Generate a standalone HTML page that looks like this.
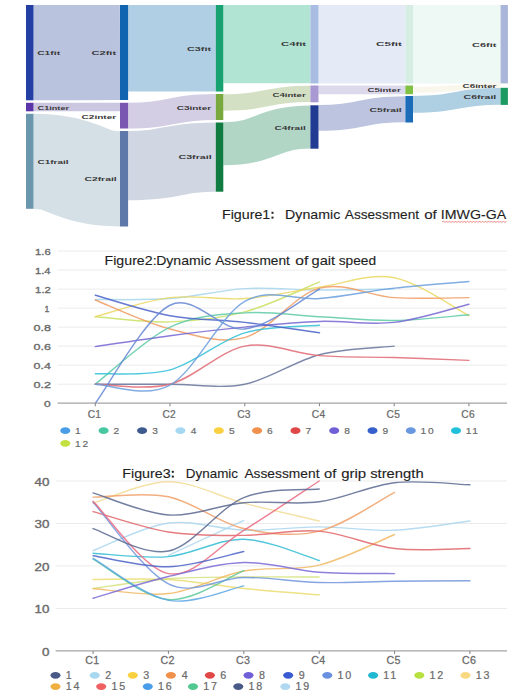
<!DOCTYPE html>
<html><head><meta charset="utf-8">
<style>
html,body{margin:0;padding:0;background:#fff;}
body{width:520px;height:699px;position:relative;overflow:hidden;font-family:"Liberation Sans",sans-serif;}
svg{position:absolute;left:0;top:0;}
.sl{font-family:"Liberation Sans",sans-serif;font-weight:bold;font-size:6px;fill:#383838;}
.yl{font-family:"Liberation Sans",sans-serif;fill:#6a6a6a;stroke:#6a6a6a;stroke-width:0.35px;}
.xl{font-family:"Liberation Sans",sans-serif;fill:#6a6a6a;stroke:#6a6a6a;stroke-width:0.25px;}
.lg{font-family:"Liberation Sans",sans-serif;fill:#6a6a6a;stroke:#6a6a6a;stroke-width:0.2px;}
.cw{font-family:"Liberation Sans",sans-serif;fill:#1e1e1e;stroke:#1e1e1e;stroke-width:0.12px;}
</style></head><body>
<svg width="520" height="699" viewBox="0 0 520 699">
<g id="sankey">
<path transform="translate(33.5,0) scale(1.3,1)" d="M0 52.65 C33.27 52.65 33.27 52.5 66.54 52.5" fill="none" stroke="#bac3dd" stroke-width="95.15"/>
<path transform="translate(33.5,0) scale(1.3,1)" d="M0 107.05 C33.27 107.05 33.27 107.05 66.54 107.05" fill="none" stroke="#cbc7e0" stroke-width="8.5"/>
<path transform="translate(33.5,0) scale(1.3,1)" d="M0 161.3 C33.27 161.3 33.27 178.75 66.54 178.75" fill="none" stroke="#d5e0e6" stroke-width="95.25"/>
<path transform="translate(128.1,0) scale(1.3,1)" d="M0 48.25 C33.73 48.25 33.73 48.25 67.46 48.25" fill="none" stroke="#b1cfe4" stroke-width="86.5"/>
<path transform="translate(128.1,0) scale(1.3,1)" d="M0 115.65 C33.73 115.65 33.73 107 67.46 107" fill="none" stroke="#d4cee4" stroke-width="25.85"/>
<path transform="translate(128.1,0) scale(1.3,1)" d="M0 165.7 C33.73 165.7 33.73 157.1 67.46 157.1" fill="none" stroke="#d0d7e3" stroke-width="69.3"/>
<path transform="translate(223.3,0) scale(1.3,1)" d="M0 44.1 C33.5 44.1 33.5 44.1 67 44.1" fill="none" stroke="#b2e4d4" stroke-width="78.2"/>
<path transform="translate(223.3,0) scale(1.3,1)" d="M0 102.45 C33.5 102.45 33.5 93.9 67 93.9" fill="none" stroke="#d4e0c3" stroke-width="16.35"/>
<path transform="translate(223.3,0) scale(1.3,1)" d="M0 143.75 C33.5 143.75 33.5 127 67 127" fill="none" stroke="#b2d6c6" stroke-width="42.95"/>
<path transform="translate(318.5,0) scale(1.3,1)" d="M0 44.25 C33.42 44.25 33.42 44.25 66.85 44.25" fill="none" stroke="#e4eaf6" stroke-width="78.5"/>
<path transform="translate(318.5,0) scale(1.3,1)" d="M0 89.85 C33.42 89.85 33.42 89.85 66.85 89.85" fill="none" stroke="#ddd9ed" stroke-width="8.7"/>
<path transform="translate(318.5,0) scale(1.3,1)" d="M0 117.9 C33.42 117.9 33.42 109.25 66.85 109.25" fill="none" stroke="#bdc4df" stroke-width="25.85"/>
<path transform="translate(413,0) scale(1.3,1)" d="M0 44.25 C33.69 44.25 33.69 44.25 67.38 44.25" fill="none" stroke="#eef8f5" stroke-width="78.5"/>
<path transform="translate(413,0) scale(1.3,1)" d="M0 89.85 C33.69 89.85 33.69 86 67.38 86" fill="none" stroke="#f9f6ec" stroke-width="5.85"/>
<path transform="translate(413,0) scale(1.3,1)" d="M0 104.3 C33.69 104.3 33.69 96.35 67.38 96.35" fill="none" stroke="#afcfe3" stroke-width="16.85"/>
<rect x="26" y="5" width="7.5" height="95.3" fill="#243fa4"/>
<rect x="26" y="102.8" width="7.5" height="8.5" fill="#5b34a8"/>
<rect x="26" y="113.8" width="7.5" height="95" fill="#6a96ae"/>
<rect x="120" y="5" width="8.1" height="95" fill="#1064b0"/>
<rect x="120" y="102.8" width="8.1" height="25.7" fill="#7a58b2"/>
<rect x="120" y="131" width="8.1" height="95.5" fill="#5f78aa"/>
<rect x="215.8" y="5" width="7.5" height="86.5" fill="#17a271"/>
<rect x="215.8" y="94" width="7.5" height="26" fill="#79a93e"/>
<rect x="215.8" y="122.5" width="7.5" height="69.2" fill="#107c42"/>
<rect x="310.4" y="5" width="8.1" height="78.5" fill="#a9bde2"/>
<rect x="310.4" y="85.5" width="8.1" height="16.8" fill="#a899d2"/>
<rect x="310.4" y="105.3" width="8.1" height="43.4" fill="#213b92"/>
<rect x="405.4" y="5" width="7.6" height="78.6" fill="#d5ede3"/>
<rect x="405.4" y="85.5" width="7.6" height="8.7" fill="#80c042"/>
<rect x="405.4" y="96" width="7.6" height="26.5" fill="#1a6bb8"/>
<rect x="500.6" y="5" width="7.3" height="78.4" fill="#a9b5d9"/>
<rect x="500.6" y="87.8" width="7.3" height="17.1" fill="#1b9b62"/>
<text x="37.15" y="55.2" textLength="22.98" lengthAdjust="spacingAndGlyphs" class="sl">C1fit</text>
<text x="37.58" y="109.9" textLength="31.44" lengthAdjust="spacingAndGlyphs" class="sl">C1inter</text>
<text x="37.54" y="164.2" textLength="31.07" lengthAdjust="spacingAndGlyphs" class="sl">C1frail</text>
<text x="91.56" y="55.2" textLength="24.58" lengthAdjust="spacingAndGlyphs" class="sl">C2fit</text>
<text x="81.6" y="118.5" textLength="34.56" lengthAdjust="spacingAndGlyphs" class="sl">C2inter</text>
<text x="84.4" y="180.9" textLength="32.31" lengthAdjust="spacingAndGlyphs" class="sl">C2frail</text>
<text x="187.07" y="50.9" textLength="23.94" lengthAdjust="spacingAndGlyphs" class="sl">C3fit</text>
<text x="176.66" y="109.8" textLength="34.49" lengthAdjust="spacingAndGlyphs" class="sl">C3inter</text>
<text x="178.51" y="158.9" textLength="33.21" lengthAdjust="spacingAndGlyphs" class="sl">C3frail</text>
<text x="281.11" y="46.3" textLength="25.03" lengthAdjust="spacingAndGlyphs" class="sl">C4fit</text>
<text x="272.49" y="96.9" textLength="33.16" lengthAdjust="spacingAndGlyphs" class="sl">C4inter</text>
<text x="274.47" y="129.7" textLength="31.27" lengthAdjust="spacingAndGlyphs" class="sl">C4frail</text>
<text x="376.11" y="46.3" textLength="25.73" lengthAdjust="spacingAndGlyphs" class="sl">C5fit</text>
<text x="367.49" y="92.2" textLength="33.16" lengthAdjust="spacingAndGlyphs" class="sl">C5inter</text>
<text x="369.46" y="112.1" textLength="32.24" lengthAdjust="spacingAndGlyphs" class="sl">C5frail</text>
<text x="472.07" y="46.7" textLength="24.32" lengthAdjust="spacingAndGlyphs" class="sl">C6fit</text>
<text x="462.61" y="88.3" textLength="33.79" lengthAdjust="spacingAndGlyphs" class="sl">C6inter</text>
<text x="463.58" y="99.4" textLength="32.69" lengthAdjust="spacingAndGlyphs" class="sl">C6frail</text>
</g>
<g id="fig2">
<line x1="57.5" y1="384.18" x2="507" y2="384.18" stroke="#ebebeb" stroke-width="1"/>
<line x1="57.5" y1="365.16" x2="507" y2="365.16" stroke="#ebebeb" stroke-width="1"/>
<line x1="57.5" y1="346.14" x2="507" y2="346.14" stroke="#ebebeb" stroke-width="1"/>
<line x1="57.5" y1="327.12" x2="507" y2="327.12" stroke="#ebebeb" stroke-width="1"/>
<line x1="57.5" y1="308.1" x2="507" y2="308.1" stroke="#ebebeb" stroke-width="1"/>
<line x1="57.5" y1="289.08" x2="507" y2="289.08" stroke="#ebebeb" stroke-width="1"/>
<line x1="57.5" y1="270.06" x2="507" y2="270.06" stroke="#ebebeb" stroke-width="1"/>
<line x1="57.5" y1="251.04" x2="507" y2="251.04" stroke="#ebebeb" stroke-width="1"/>
<path d="M95.3 299.54 C107.75 299.38 145.11 300.41 170.02 298.59 C194.93 296.77 219.83 290.03 244.74 288.6 C269.65 287.18 294.55 289.95 319.46 290.03 C344.37 290.11 381.73 289.24 394.18 289.08" fill="none" stroke="#a6d6ee" stroke-width="1.45" stroke-linecap="round" stroke-linejoin="round" opacity="0.85"/>
<path d="M95.3 316.66 C107.75 317.53 145.11 322.68 170.02 321.89 C194.93 321.1 219.83 318.56 244.74 311.9 C269.65 305.25 307.01 286.94 319.46 281.95" fill="none" stroke="#c8e060" stroke-width="1.45" stroke-linecap="round" stroke-linejoin="round" opacity="0.85"/>
<path d="M95.3 316.66 C107.75 313.49 145.11 300.65 170.02 297.64 C194.93 294.63 219.83 300.33 244.74 298.59 C269.65 296.85 294.55 290.66 319.46 287.18 C344.37 283.69 369.27 272.91 394.18 277.67 C419.09 282.42 456.45 309.37 468.9 315.71" fill="none" stroke="#ead862" stroke-width="1.45" stroke-linecap="round" stroke-linejoin="round" opacity="0.85"/>
<path d="M95.3 300.02 C107.75 304.85 145.11 322.76 170.02 329.02 C194.93 335.28 219.83 344.4 244.74 337.58 C269.65 330.77 294.55 294.79 319.46 288.13 C344.37 281.47 369.27 296.05 394.18 297.64 C419.09 299.22 456.45 297.64 468.9 297.64" fill="none" stroke="#f09a60" stroke-width="1.45" stroke-linecap="round" stroke-linejoin="round" opacity="0.85"/>
<path d="M95.3 384.18 C107.75 374.67 145.11 339.01 170.02 327.12 C194.93 315.23 219.83 314.6 244.74 312.86 C269.65 311.11 294.55 315.39 319.46 316.66 C344.37 317.93 369.27 320.78 394.18 320.46 C419.09 320.15 456.45 315.71 468.9 314.76" fill="none" stroke="#5ecaa8" stroke-width="1.45" stroke-linecap="round" stroke-linejoin="round" opacity="0.85"/>
<path d="M95.3 384.18 C107.75 384.18 145.11 384.18 170.02 384.18 C194.93 384.18 219.83 389.09 244.74 384.18 C269.65 379.27 294.55 361.04 319.46 354.7 C344.37 348.36 381.73 347.57 394.18 346.14" fill="none" stroke="#66749a" stroke-width="1.45" stroke-linecap="round" stroke-linejoin="round" opacity="0.85"/>
<path d="M95.3 384.18 C107.75 384.18 145.11 390.52 170.02 384.18 C194.93 377.84 219.83 350.89 244.74 346.14 C269.65 341.38 294.55 353.75 319.46 355.65 C344.37 357.55 369.27 356.76 394.18 357.55 C419.09 358.34 456.45 359.93 468.9 360.4" fill="none" stroke="#e06872" stroke-width="1.45" stroke-linecap="round" stroke-linejoin="round" opacity="0.85"/>
<path d="M95.3 346.62 C107.75 344.79 145.11 338.93 170.02 335.68 C194.93 332.43 219.83 329.5 244.74 327.12 C269.65 324.74 294.55 322.21 319.46 321.41 C344.37 320.62 369.27 325.22 394.18 322.37 C419.09 319.51 456.45 307.31 468.9 304.3" fill="none" stroke="#7466d2" stroke-width="1.45" stroke-linecap="round" stroke-linejoin="round" opacity="0.85"/>
<path d="M95.3 373.72 C107.75 373.08 145.11 376.73 170.02 369.91 C194.93 363.1 219.83 340.28 244.74 332.83 C269.65 325.38 307.01 326.49 319.46 325.22" fill="none" stroke="#30c0d8" stroke-width="1.45" stroke-linecap="round" stroke-linejoin="round" opacity="0.85"/>
<path d="M95.3 295.26 C107.75 298.67 145.11 311.19 170.02 315.71 C194.93 320.23 219.83 319.51 244.74 322.37 C269.65 325.22 307.01 331.08 319.46 332.83" fill="none" stroke="#4a62c8" stroke-width="1.45" stroke-linecap="round" stroke-linejoin="round" opacity="0.85"/>
<path d="M95.3 403.2 C107.75 386.87 145.11 317.61 170.02 305.25 C194.93 292.88 219.83 331.72 244.74 329.02 C269.65 326.33 307.01 295.74 319.46 289.08" fill="none" stroke="#6486d2" stroke-width="1.45" stroke-linecap="round" stroke-linejoin="round" opacity="0.85"/>
<path d="M95.3 384.18 C107.75 384.34 145.11 398.92 170.02 385.13 C194.93 371.34 219.83 315.87 244.74 301.44 C269.65 287.02 294.55 300.81 319.46 298.59 C344.37 296.37 369.27 290.98 394.18 288.13 C419.09 285.28 456.45 282.58 468.9 281.47" fill="none" stroke="#6a9edc" stroke-width="1.45" stroke-linecap="round" stroke-linejoin="round" opacity="0.85"/>
<line x1="57.5" y1="403.2" x2="507" y2="403.2" stroke="#a4a4a4" stroke-width="1.3"/>
<line x1="95.3" y1="403.2" x2="95.3" y2="406.2" stroke="#8a8a8a" stroke-width="1.1"/>
<text transform="scale(0.97,1)" x="90.44" y="417.6" class="xl" style="font-size:10.5px;letter-spacing:0.31px">C1</text>
<line x1="170.02" y1="403.2" x2="170.02" y2="406.2" stroke="#8a8a8a" stroke-width="1.1"/>
<text transform="scale(0.97,1)" x="167.5" y="417.6" class="xl" style="font-size:10.5px;letter-spacing:0.31px">C2</text>
<line x1="244.74" y1="403.2" x2="244.74" y2="406.2" stroke="#8a8a8a" stroke-width="1.1"/>
<text transform="scale(0.97,1)" x="244.48" y="417.6" class="xl" style="font-size:10.5px;letter-spacing:0.31px">C3</text>
<line x1="319.46" y1="403.2" x2="319.46" y2="406.2" stroke="#8a8a8a" stroke-width="1.1"/>
<text transform="scale(0.97,1)" x="321.46" y="417.6" class="xl" style="font-size:10.5px;letter-spacing:0.31px">C4</text>
<line x1="394.18" y1="403.2" x2="394.18" y2="406.2" stroke="#8a8a8a" stroke-width="1.1"/>
<text transform="scale(0.97,1)" x="398.54" y="417.6" class="xl" style="font-size:10.5px;letter-spacing:0.31px">C5</text>
<line x1="468.9" y1="403.2" x2="468.9" y2="406.2" stroke="#8a8a8a" stroke-width="1.1"/>
<text transform="scale(0.97,1)" x="475.57" y="417.6" class="xl" style="font-size:10.5px;letter-spacing:0.31px">C6</text>
<text transform="scale(1.23,1)" x="35.78" y="407.2" class="yl" style="font-size:9.8px;letter-spacing:0px">0</text>
<text transform="scale(1.29,1)" x="26.02" y="388.18" class="yl" style="font-size:9.8px;letter-spacing:0px">0.2</text>
<text transform="scale(1.27,1)" x="26.43" y="369.16" class="yl" style="font-size:9.8px;letter-spacing:0px">0.4</text>
<text transform="scale(1.28,1)" x="26.22" y="350.14" class="yl" style="font-size:9.8px;letter-spacing:0px">0.6</text>
<text transform="scale(1.28,1)" x="26.22" y="331.12" class="yl" style="font-size:9.8px;letter-spacing:0px">0.8</text>
<text transform="scale(0.89,1)" x="49.97" y="312.1" class="yl" style="font-size:9.8px;letter-spacing:0px">1</text>
<text transform="scale(1.16,1)" x="30.26" y="293.08" class="yl" style="font-size:9.8px;letter-spacing:0px">1.2</text>
<text transform="scale(1.14,1)" x="30.75" y="274.06" class="yl" style="font-size:9.8px;letter-spacing:0px">1.4</text>
<text transform="scale(1.15,1)" x="30.5" y="255.04" class="yl" style="font-size:9.8px;letter-spacing:0px">1.6</text>
<ellipse cx="65.3" cy="430.7" rx="5" ry="3.4" fill="#4a9ee8"/>
<text transform="scale(1.04,1)" x="72.15" y="434.2" class="lg" style="font-size:9.8px;letter-spacing:1.63px">1</text>
<ellipse cx="103.6" cy="430.7" rx="5" ry="3.4" fill="#48c8a0"/>
<text transform="scale(1.04,1)" x="109.22" y="434.2" class="lg" style="font-size:9.8px;letter-spacing:1.63px">2</text>
<ellipse cx="142.1" cy="430.7" rx="5" ry="3.4" fill="#3f5a8e"/>
<text transform="scale(1.04,1)" x="146.34" y="434.2" class="lg" style="font-size:9.8px;letter-spacing:1.63px">3</text>
<ellipse cx="180.4" cy="430.7" rx="5" ry="3.4" fill="#a6d8f2"/>
<text transform="scale(1.04,1)" x="183.36" y="434.2" class="lg" style="font-size:9.8px;letter-spacing:1.63px">4</text>
<ellipse cx="218.8" cy="430.7" rx="5" ry="3.4" fill="#f8d040"/>
<text transform="scale(1.04,1)" x="220.09" y="434.2" class="lg" style="font-size:9.8px;letter-spacing:1.63px">5</text>
<ellipse cx="257.1" cy="430.7" rx="5" ry="3.4" fill="#f0904c"/>
<text transform="scale(1.04,1)" x="256.82" y="434.2" class="lg" style="font-size:9.8px;letter-spacing:1.63px">6</text>
<ellipse cx="295.5" cy="430.7" rx="5" ry="3.4" fill="#e04848"/>
<text transform="scale(1.04,1)" x="293.74" y="434.2" class="lg" style="font-size:9.8px;letter-spacing:1.63px">7</text>
<ellipse cx="334.2" cy="430.7" rx="5" ry="3.4" fill="#7060d8"/>
<text transform="scale(1.04,1)" x="331" y="434.2" class="lg" style="font-size:9.8px;letter-spacing:1.63px">8</text>
<ellipse cx="372.5" cy="430.7" rx="5" ry="3.4" fill="#3860cc"/>
<text transform="scale(1.04,1)" x="367.83" y="434.2" class="lg" style="font-size:9.8px;letter-spacing:1.63px">9</text>
<ellipse cx="410.8" cy="430.7" rx="5" ry="3.4" fill="#6a98e0"/>
<text transform="scale(1.04,1)" x="404.36" y="434.2" class="lg" style="font-size:9.8px;letter-spacing:1.63px">10</text>
<ellipse cx="456" cy="430.7" rx="5" ry="3.4" fill="#20c0d8"/>
<text transform="scale(1.04,1)" x="447.82" y="434.2" class="lg" style="font-size:9.8px;letter-spacing:1.63px">11</text>
<ellipse cx="65.3" cy="443.4" rx="5" ry="3.4" fill="#c2e040"/>
<text transform="scale(1.04,1)" x="72.15" y="446.9" class="lg" style="font-size:9.8px;letter-spacing:1.63px">12</text>
</g>
<rect x="100" y="252.5" width="284" height="16" fill="#fff"/>
<g id="fig3">
<line x1="55.6" y1="608.42" x2="507" y2="608.42" stroke="#ebebeb" stroke-width="1"/>
<line x1="55.6" y1="565.95" x2="507" y2="565.95" stroke="#ebebeb" stroke-width="1"/>
<line x1="55.6" y1="523.48" x2="507" y2="523.48" stroke="#ebebeb" stroke-width="1"/>
<line x1="55.6" y1="481" x2="507" y2="481" stroke="#ebebeb" stroke-width="1"/>
<path d="M168.46 555.33 C181.02 549.53 231.26 526.31 243.82 520.5" fill="none" stroke="#b2d8ee" stroke-width="1.45" stroke-linecap="round" stroke-linejoin="round" opacity="0.85"/>
<path d="M93.1 550.66 C105.66 546.06 143.34 526.45 168.46 523.05 C193.58 519.65 218.7 529.63 243.82 530.27 C268.94 530.91 294.06 526.87 319.18 526.87 C344.3 526.87 369.42 531.26 394.54 530.27 C419.66 529.28 457.34 522.48 469.9 520.93" fill="none" stroke="#aad6ee" stroke-width="1.45" stroke-linecap="round" stroke-linejoin="round" opacity="0.85"/>
<path d="M93.1 503.09 C105.66 499.55 143.34 481.85 168.46 481.85 C193.58 481.85 218.7 496.57 243.82 503.09 C268.94 509.6 306.62 517.95 319.18 520.93" fill="none" stroke="#f2dc96" stroke-width="1.45" stroke-linecap="round" stroke-linejoin="round" opacity="0.85"/>
<path d="M93.1 579.54 C105.66 579.54 143.34 578.06 168.46 579.54 C193.58 581.03 218.7 585.91 243.82 588.46 C268.94 591.01 306.62 593.77 319.18 594.83" fill="none" stroke="#ecdc70" stroke-width="1.45" stroke-linecap="round" stroke-linejoin="round" opacity="0.85"/>
<path d="M93.1 588.46 C105.66 586.83 143.34 580.6 168.46 578.69 C193.58 576.78 218.7 577.28 243.82 576.99 C268.94 576.71 306.62 576.99 319.18 576.99" fill="none" stroke="#d4e27a" stroke-width="1.45" stroke-linecap="round" stroke-linejoin="round" opacity="0.85"/>
<path d="M93.1 588.46 C105.66 589.31 143.34 596.46 168.46 593.56 C193.58 590.66 218.7 575.79 243.82 571.05 C268.94 566.3 294.06 571.19 319.18 565.1 C344.3 559.01 381.98 539.62 394.54 534.52" fill="none" stroke="#f0b862" stroke-width="1.45" stroke-linecap="round" stroke-linejoin="round" opacity="0.85"/>
<path d="M93.1 497.14 C105.66 497.07 143.34 491.48 168.46 496.72 C193.58 501.95 218.7 522.84 243.82 528.57 C268.94 534.31 294.06 537.14 319.18 531.12 C344.3 525.1 381.98 498.91 394.54 492.47" fill="none" stroke="#f0a068" stroke-width="1.45" stroke-linecap="round" stroke-linejoin="round" opacity="0.85"/>
<path d="M93.1 511.58 C105.66 514.98 143.34 528.01 168.46 531.97 C193.58 535.93 218.7 535.51 243.82 535.37 C268.94 535.23 294.06 528.93 319.18 531.12 C344.3 533.32 369.42 545.63 394.54 548.54 C419.66 551.44 457.34 548.54 469.9 548.54" fill="none" stroke="#e06468" stroke-width="1.45" stroke-linecap="round" stroke-linejoin="round" opacity="0.85"/>
<path d="M93.1 559.15 C105.66 565.88 143.34 597.59 168.46 599.51 C193.58 601.42 231.26 575.44 243.82 570.62" fill="none" stroke="#5ec89c" stroke-width="1.45" stroke-linecap="round" stroke-linejoin="round" opacity="0.85"/>
<path d="M93.1 558.3 C105.66 565.31 143.34 595.75 168.46 600.35 C193.58 604.96 231.26 588.32 243.82 585.91" fill="none" stroke="#5aa6e4" stroke-width="1.45" stroke-linecap="round" stroke-linejoin="round" opacity="0.85"/>
<path d="M93.1 553.21 C105.66 553.77 143.34 558.94 168.46 556.61 C193.58 554.27 218.7 538.55 243.82 539.19 C268.94 539.83 306.62 556.89 319.18 560.43" fill="none" stroke="#30bcd4" stroke-width="1.45" stroke-linecap="round" stroke-linejoin="round" opacity="0.85"/>
<path d="M93.1 502.24 C105.66 515.83 143.34 571.26 168.46 583.79 C193.58 596.32 218.7 577.63 243.82 577.42 C268.94 577.21 294.06 581.88 319.18 582.52 C344.3 583.15 369.42 581.52 394.54 581.24 C419.66 580.96 457.34 580.89 469.9 580.82" fill="none" stroke="#7094dc" stroke-width="1.45" stroke-linecap="round" stroke-linejoin="round" opacity="0.85"/>
<path d="M93.1 501.39 C105.66 513.42 143.34 568.78 168.46 573.6 C193.58 578.41 218.7 545.7 243.82 530.27 C268.94 514.84 306.62 489.21 319.18 481" fill="none" stroke="#e86a80" stroke-width="1.45" stroke-linecap="round" stroke-linejoin="round" opacity="0.85"/>
<path d="M93.1 555.76 C105.66 557.6 143.34 567.51 168.46 566.8 C193.58 566.09 231.26 554.06 243.82 551.51" fill="none" stroke="#4a62c8" stroke-width="1.45" stroke-linecap="round" stroke-linejoin="round" opacity="0.85"/>
<path d="M93.1 598.23 C105.66 594.62 143.34 582.52 168.46 576.57 C193.58 570.62 218.7 563.26 243.82 562.55 C268.94 561.84 294.06 570.48 319.18 572.32 C344.3 574.16 381.98 573.38 394.54 573.6" fill="none" stroke="#7a6ad6" stroke-width="1.45" stroke-linecap="round" stroke-linejoin="round" opacity="0.85"/>
<path d="M93.1 528.57 C105.66 532.32 143.34 556.25 168.46 551.08 C193.58 545.92 218.7 507.9 243.82 497.57 C268.94 487.23 306.62 490.49 319.18 489.07" fill="none" stroke="#5a6890" stroke-width="1.45" stroke-linecap="round" stroke-linejoin="round" opacity="0.85"/>
<path d="M93.1 492.89 C105.66 496.57 143.34 513.35 168.46 514.98 C193.58 516.61 218.7 504.86 243.82 502.66 C268.94 500.47 294.06 505.14 319.18 501.81 C344.3 498.49 369.42 485.53 394.54 482.7 C419.66 479.87 457.34 484.47 469.9 484.82" fill="none" stroke="#5a6890" stroke-width="1.45" stroke-linecap="round" stroke-linejoin="round" opacity="0.85"/>
<line x1="55.6" y1="650.9" x2="507" y2="650.9" stroke="#a4a4a4" stroke-width="1.3"/>
<line x1="93.1" y1="650.9" x2="93.1" y2="653.9" stroke="#8a8a8a" stroke-width="1.1"/>
<text transform="scale(1.07,1)" x="79.63" y="663.9" class="xl" style="font-size:10px;letter-spacing:0.28px">C1</text>
<line x1="168.46" y1="650.9" x2="168.46" y2="653.9" stroke="#8a8a8a" stroke-width="1.1"/>
<text transform="scale(1.07,1)" x="150.08" y="663.9" class="xl" style="font-size:10px;letter-spacing:0.28px">C2</text>
<line x1="243.82" y1="650.9" x2="243.82" y2="653.9" stroke="#8a8a8a" stroke-width="1.1"/>
<text transform="scale(1.07,1)" x="220.46" y="663.9" class="xl" style="font-size:10px;letter-spacing:0.28px">C3</text>
<line x1="319.18" y1="650.9" x2="319.18" y2="653.9" stroke="#8a8a8a" stroke-width="1.1"/>
<text transform="scale(1.07,1)" x="290.84" y="663.9" class="xl" style="font-size:10px;letter-spacing:0.28px">C4</text>
<line x1="394.54" y1="650.9" x2="394.54" y2="653.9" stroke="#8a8a8a" stroke-width="1.1"/>
<text transform="scale(1.07,1)" x="361.32" y="663.9" class="xl" style="font-size:10px;letter-spacing:0.28px">C5</text>
<line x1="469.9" y1="650.9" x2="469.9" y2="653.9" stroke="#8a8a8a" stroke-width="1.1"/>
<text transform="scale(1.07,1)" x="431.75" y="663.9" class="xl" style="font-size:10px;letter-spacing:0.28px">C6</text>
<text transform="scale(1.3,1)" x="32.34" y="655.6" class="yl" style="font-size:10.3px;letter-spacing:0px">0</text>
<text transform="scale(1.3,1)" x="26.62" y="613.12" class="yl" style="font-size:10.3px;letter-spacing:0px">10</text>
<text transform="scale(1.3,1)" x="26.62" y="570.65" class="yl" style="font-size:10.3px;letter-spacing:0px">20</text>
<text transform="scale(1.3,1)" x="26.62" y="528.18" class="yl" style="font-size:10.3px;letter-spacing:0px">30</text>
<text transform="scale(1.3,1)" x="26.62" y="485.7" class="yl" style="font-size:10.3px;letter-spacing:0px">40</text>
<ellipse cx="55.5" cy="675.3" rx="5" ry="3.4" fill="#4a5a88"/>
<text transform="scale(1.04,1)" x="63.17" y="678.6" class="lg" style="font-size:10.3px;letter-spacing:1.83px">1</text>
<ellipse cx="94.7" cy="675.3" rx="5" ry="3.4" fill="#a8d8f0"/>
<text transform="scale(1.04,1)" x="101.12" y="678.6" class="lg" style="font-size:10.3px;letter-spacing:1.83px">2</text>
<ellipse cx="132.8" cy="675.3" rx="5" ry="3.4" fill="#f8d040"/>
<text transform="scale(1.04,1)" x="137.86" y="678.6" class="lg" style="font-size:10.3px;letter-spacing:1.83px">3</text>
<ellipse cx="170.9" cy="675.3" rx="5" ry="3.4" fill="#f0904a"/>
<text transform="scale(1.04,1)" x="174.7" y="678.6" class="lg" style="font-size:10.3px;letter-spacing:1.83px">4</text>
<ellipse cx="209.9" cy="675.3" rx="5" ry="3.4" fill="#e04848"/>
<text transform="scale(1.04,1)" x="211.89" y="678.6" class="lg" style="font-size:10.3px;letter-spacing:1.83px">6</text>
<ellipse cx="248.5" cy="675.3" rx="5" ry="3.4" fill="#7060d8"/>
<text transform="scale(1.04,1)" x="249.06" y="678.6" class="lg" style="font-size:10.3px;letter-spacing:1.83px">8</text>
<ellipse cx="288.2" cy="675.3" rx="5" ry="3.4" fill="#3a5ad0"/>
<text transform="scale(1.04,1)" x="287.23" y="678.6" class="lg" style="font-size:10.3px;letter-spacing:1.83px">9</text>
<ellipse cx="327.3" cy="675.3" rx="5" ry="3.4" fill="#6a90e0"/>
<text transform="scale(1.04,1)" x="324.52" y="678.6" class="lg" style="font-size:10.3px;letter-spacing:1.83px">10</text>
<ellipse cx="373.1" cy="675.3" rx="5" ry="3.4" fill="#20b8d0"/>
<text transform="scale(1.04,1)" x="368.55" y="678.6" class="lg" style="font-size:10.3px;letter-spacing:1.83px">11</text>
<ellipse cx="419.3" cy="675.3" rx="5" ry="3.4" fill="#b8e040"/>
<text transform="scale(1.04,1)" x="412.98" y="678.6" class="lg" style="font-size:10.3px;letter-spacing:1.83px">12</text>
<ellipse cx="465.5" cy="675.3" rx="5" ry="3.4" fill="#f8d880"/>
<text transform="scale(1.04,1)" x="457.4" y="678.6" class="lg" style="font-size:10.3px;letter-spacing:1.83px">13</text>
<ellipse cx="55.5" cy="686.6" rx="5" ry="3.4" fill="#f0b040"/>
<text transform="scale(1.04,1)" x="63.17" y="689.9" class="lg" style="font-size:10.3px;letter-spacing:1.83px">14</text>
<ellipse cx="101.2" cy="686.6" rx="5" ry="3.4" fill="#f06060"/>
<text transform="scale(1.04,1)" x="107.11" y="689.9" class="lg" style="font-size:10.3px;letter-spacing:1.83px">15</text>
<ellipse cx="147.8" cy="686.6" rx="5" ry="3.4" fill="#4a9ee8"/>
<text transform="scale(1.04,1)" x="151.92" y="689.9" class="lg" style="font-size:10.3px;letter-spacing:1.83px">16</text>
<ellipse cx="193" cy="686.6" rx="5" ry="3.4" fill="#50c890"/>
<text transform="scale(1.04,1)" x="195.38" y="689.9" class="lg" style="font-size:10.3px;letter-spacing:1.83px">17</text>
<ellipse cx="238.3" cy="686.6" rx="5" ry="3.4" fill="#4a5a88"/>
<text transform="scale(1.04,1)" x="238.94" y="689.9" class="lg" style="font-size:10.3px;letter-spacing:1.83px">18</text>
<ellipse cx="285.3" cy="686.6" rx="5" ry="3.4" fill="#b0d8f0"/>
<text transform="scale(1.04,1)" x="284.13" y="689.9" class="lg" style="font-size:10.3px;letter-spacing:1.83px">19</text>
</g>
<text id="w1a" x="221.96" y="218.6" textLength="48.29" lengthAdjust="spacingAndGlyphs" class="cw" style="font-size:12.8px">Figure1</text>
<rect x="271.5" y="211.8" width="2" height="2" fill="#222"/>
<rect x="271.5" y="216.6" width="2" height="2" fill="#222"/>
<text id="w1c" x="285.06" y="218.6" textLength="55.19" lengthAdjust="spacingAndGlyphs" class="cw" style="font-size:12.8px">Dynamic</text>
<text id="w1d" x="344.8" y="218.6" textLength="74.29" lengthAdjust="spacingAndGlyphs" class="cw" style="font-size:12.8px">Assessment</text>
<text id="w1e" x="424.2" y="218.6" textLength="12.59" lengthAdjust="spacingAndGlyphs" class="cw" style="font-size:12.8px">of</text>
<text id="w1f" x="440.82" y="218.6" textLength="65.38" lengthAdjust="spacingAndGlyphs" class="cw" style="font-size:12.8px">IMWG-GA</text>
<text id="w2a" x="104.56" y="264.8" textLength="52.06" lengthAdjust="spacingAndGlyphs" class="cw" style="font-size:12.8px">Figure2:</text>
<text id="w2c" x="156.17" y="264.8" textLength="54.78" lengthAdjust="spacingAndGlyphs" class="cw" style="font-size:12.8px">Dynamic</text>
<text id="w2d" x="215.2" y="264.8" textLength="74.69" lengthAdjust="spacingAndGlyphs" class="cw" style="font-size:12.8px">Assessment</text>
<text id="w2e" x="295.28" y="264.8" textLength="13.01" lengthAdjust="spacingAndGlyphs" class="cw" style="font-size:12.8px">of</text>
<text id="w2f" x="311.51" y="264.8" textLength="23.59" lengthAdjust="spacingAndGlyphs" class="cw" style="font-size:12.8px">gait</text>
<text id="w2g" x="338.69" y="264.8" textLength="37.4" lengthAdjust="spacingAndGlyphs" class="cw" style="font-size:12.8px">speed</text>
<text id="w3a" x="122.26" y="477.6" textLength="48.42" lengthAdjust="spacingAndGlyphs" class="cw" style="font-size:12.8px">Figure3</text>
<rect x="171.8" y="470.8" width="2" height="2" fill="#222"/>
<rect x="171.8" y="475.6" width="2" height="2" fill="#222"/>
<text id="w3c" x="185.83" y="477.6" textLength="52.21" lengthAdjust="spacingAndGlyphs" class="cw" style="font-size:12.8px">Dynamic</text>
<text id="w3d" x="244.4" y="477.6" textLength="75.09" lengthAdjust="spacingAndGlyphs" class="cw" style="font-size:12.8px">Assessment</text>
<text id="w3e" x="324.01" y="477.6" textLength="12.27" lengthAdjust="spacingAndGlyphs" class="cw" style="font-size:12.8px">of</text>
<text id="w3f" x="341.2" y="477.6" textLength="25.04" lengthAdjust="spacingAndGlyphs" class="cw" style="font-size:12.8px">grip</text>
<text id="w3g" x="370.16" y="477.6" textLength="53.46" lengthAdjust="spacingAndGlyphs" class="cw" style="font-size:12.8px">strength</text>
<path d="M442 221.8 L443.5 221 L445 222.6 L446.5 221 L448 222.6 L449.5 221 L451 222.6 L452.5 221 L454 222.6 L455.5 221 L457 222.6 L458.5 221 L460 222.6 L461.5 221 L463 222.6 L464.5 221 L466 222.6 L467.5 221 L469 222.6 L470.5 221 L472 222.6 L473.5 221 L475 222.6 L476.5 221 L478 222.6 L479.5 221 L481 222.6 L482.5 221 L484 222.6 L485.5 221 L487 222.6 L488.5 221 L490 222.6 L491.5 221 L493 222.6 L494.5 221 L496 222.6 L497.5 221 L499 222.6 L500.5 221 L502 222.6 L503.5 221 L505 222.6 L506.5 221" fill="none" stroke="#e86060" stroke-width="0.7"/>
</svg>
</body></html>
